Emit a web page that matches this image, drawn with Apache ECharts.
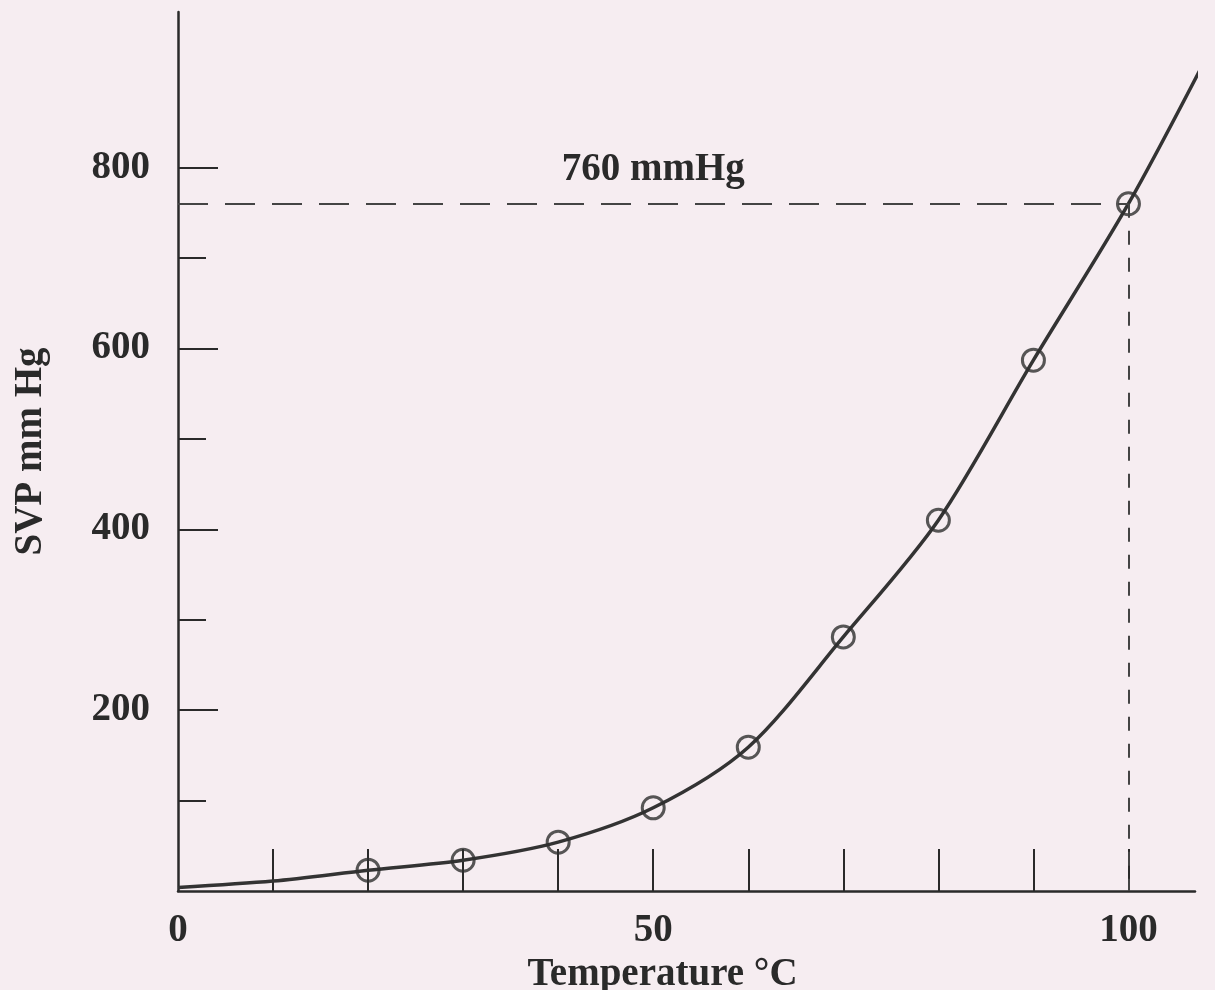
<!DOCTYPE html>
<html><head><meta charset="utf-8">
<script src="https://cdn.jsdelivr.net/npm/echarts@6/dist/echarts.min.js"></script>
<style>html,body{margin:0;padding:0;background:#f6edf1;} #c{width:1215px;height:990px;}</style>
</head><body><div id="c"></div>
<script>
// ---- data ----
const curveTemps = [0, 10, 20, 30, 40, 50, 60, 70, 80, 90, 100, 109];
const curveSVP   = [4, 11, 23, 34, 54, 92, 159, 281, 410, 587, 760, 938];
const pointTemps = [20, 30, 40, 50, 60, 70, 80, 90, 100];
const pointSVP   = [23, 34, 54, 92, 159, 281, 410, 587, 760];
const xTickValues  = [10, 20, 30, 40, 50, 60, 70, 80, 90, 100];
const xLabelValues = [0, 50, 100];
const yMajorTicks  = [200, 400, 600, 800];
const yMinorTicks  = [100, 300, 500, 700];
const boilTemp = 100;
const boilSVP  = 760;
const xTitle = 'Temperature °C';
const yTitle = 'SVP mm Hg';

const ink = '#2a2a2a';
const font = 'Liberation Serif';
const chart = echarts.init(document.getElementById('c'));
const textBase = { fontFamily: font, fontWeight: 'bold', color: ink, fontSize: 39 };

chart.setOption({
  backgroundColor: '#f6edf1',
  animation: false,
  grid: { left: 178, right: 20, top: 12, bottom: 99, containLabel: false, outerBoundsMode: 'none' },
  xAxis: {
    type: 'value', min: 0, max: 107,
    splitLine: { show: false },
    axisLine: { lineStyle: { color: ink, width: 2.5 } },
    axisTick: { inside: true, length: 42, customValues: xTickValues, lineStyle: { color: ink, width: 2 } },
    axisLabel: Object.assign({ customValues: xLabelValues, margin: 20 }, textBase),
    name: xTitle, nameLocation: 'middle', nameGap: 64,
    nameTextStyle: Object.assign({ padding: [0, 48, 0, 0] }, textBase)
  },
  yAxis: [{
    type: 'value', min: 0, max: 972, position: 'left',
    splitLine: { show: false },
    axisLine: { lineStyle: { color: ink, width: 2.5 } },
    axisTick: { inside: true, length: 40, customValues: yMajorTicks, lineStyle: { color: ink, width: 2 } },
    axisLabel: Object.assign({ customValues: yMajorTicks, margin: 28 }, textBase),
    name: yTitle, nameLocation: 'middle', nameGap: 128, nameRotate: 90,
    nameTextStyle: Object.assign({}, textBase)
  }, {
    type: 'value', min: 0, max: 972, position: 'left',
    splitLine: { show: false },
    axisLine: { show: false },
    axisTick: { inside: true, length: 28, customValues: yMinorTicks, lineStyle: { color: ink, width: 2 } },
    axisLabel: { show: false }
  }],
  series: [{
    type: 'line',
    data: curveTemps.map((t, i) => [t, curveSVP[i]]),
    smooth: 0.3,
    showSymbol: false, symbol: 'none',
    clip: false,
    lineStyle: { color: '#333', width: 3.5 },
    markLine: {
      silent: true, symbol: 'none',
      lineStyle: { color: '#444', width: 2, type: [30, 17] },
      label: Object.assign({ show: true, position: 'middle', distance: 14, formatter: boilSVP + ' mmHg' }, textBase),
      data: [
        [{ coord: [0, boilSVP] }, { coord: [boilTemp, boilSVP] }],
        [{ coord: [boilTemp, boilSVP], label: { show: false }, lineStyle: { type: [14, 13] } }, { coord: [boilTemp, 0] }]
      ]
    },
    z: 2
  }, {
    type: 'scatter',
    data: pointTemps.map((t, i) => [t, pointSVP[i]]),
    symbol: 'circle', symbolSize: 22,
    itemStyle: { color: 'rgba(0,0,0,0)', borderColor: '#2e2e2e', borderWidth: 3 },
    z: 3
  }]
});
</script>
</body></html>
